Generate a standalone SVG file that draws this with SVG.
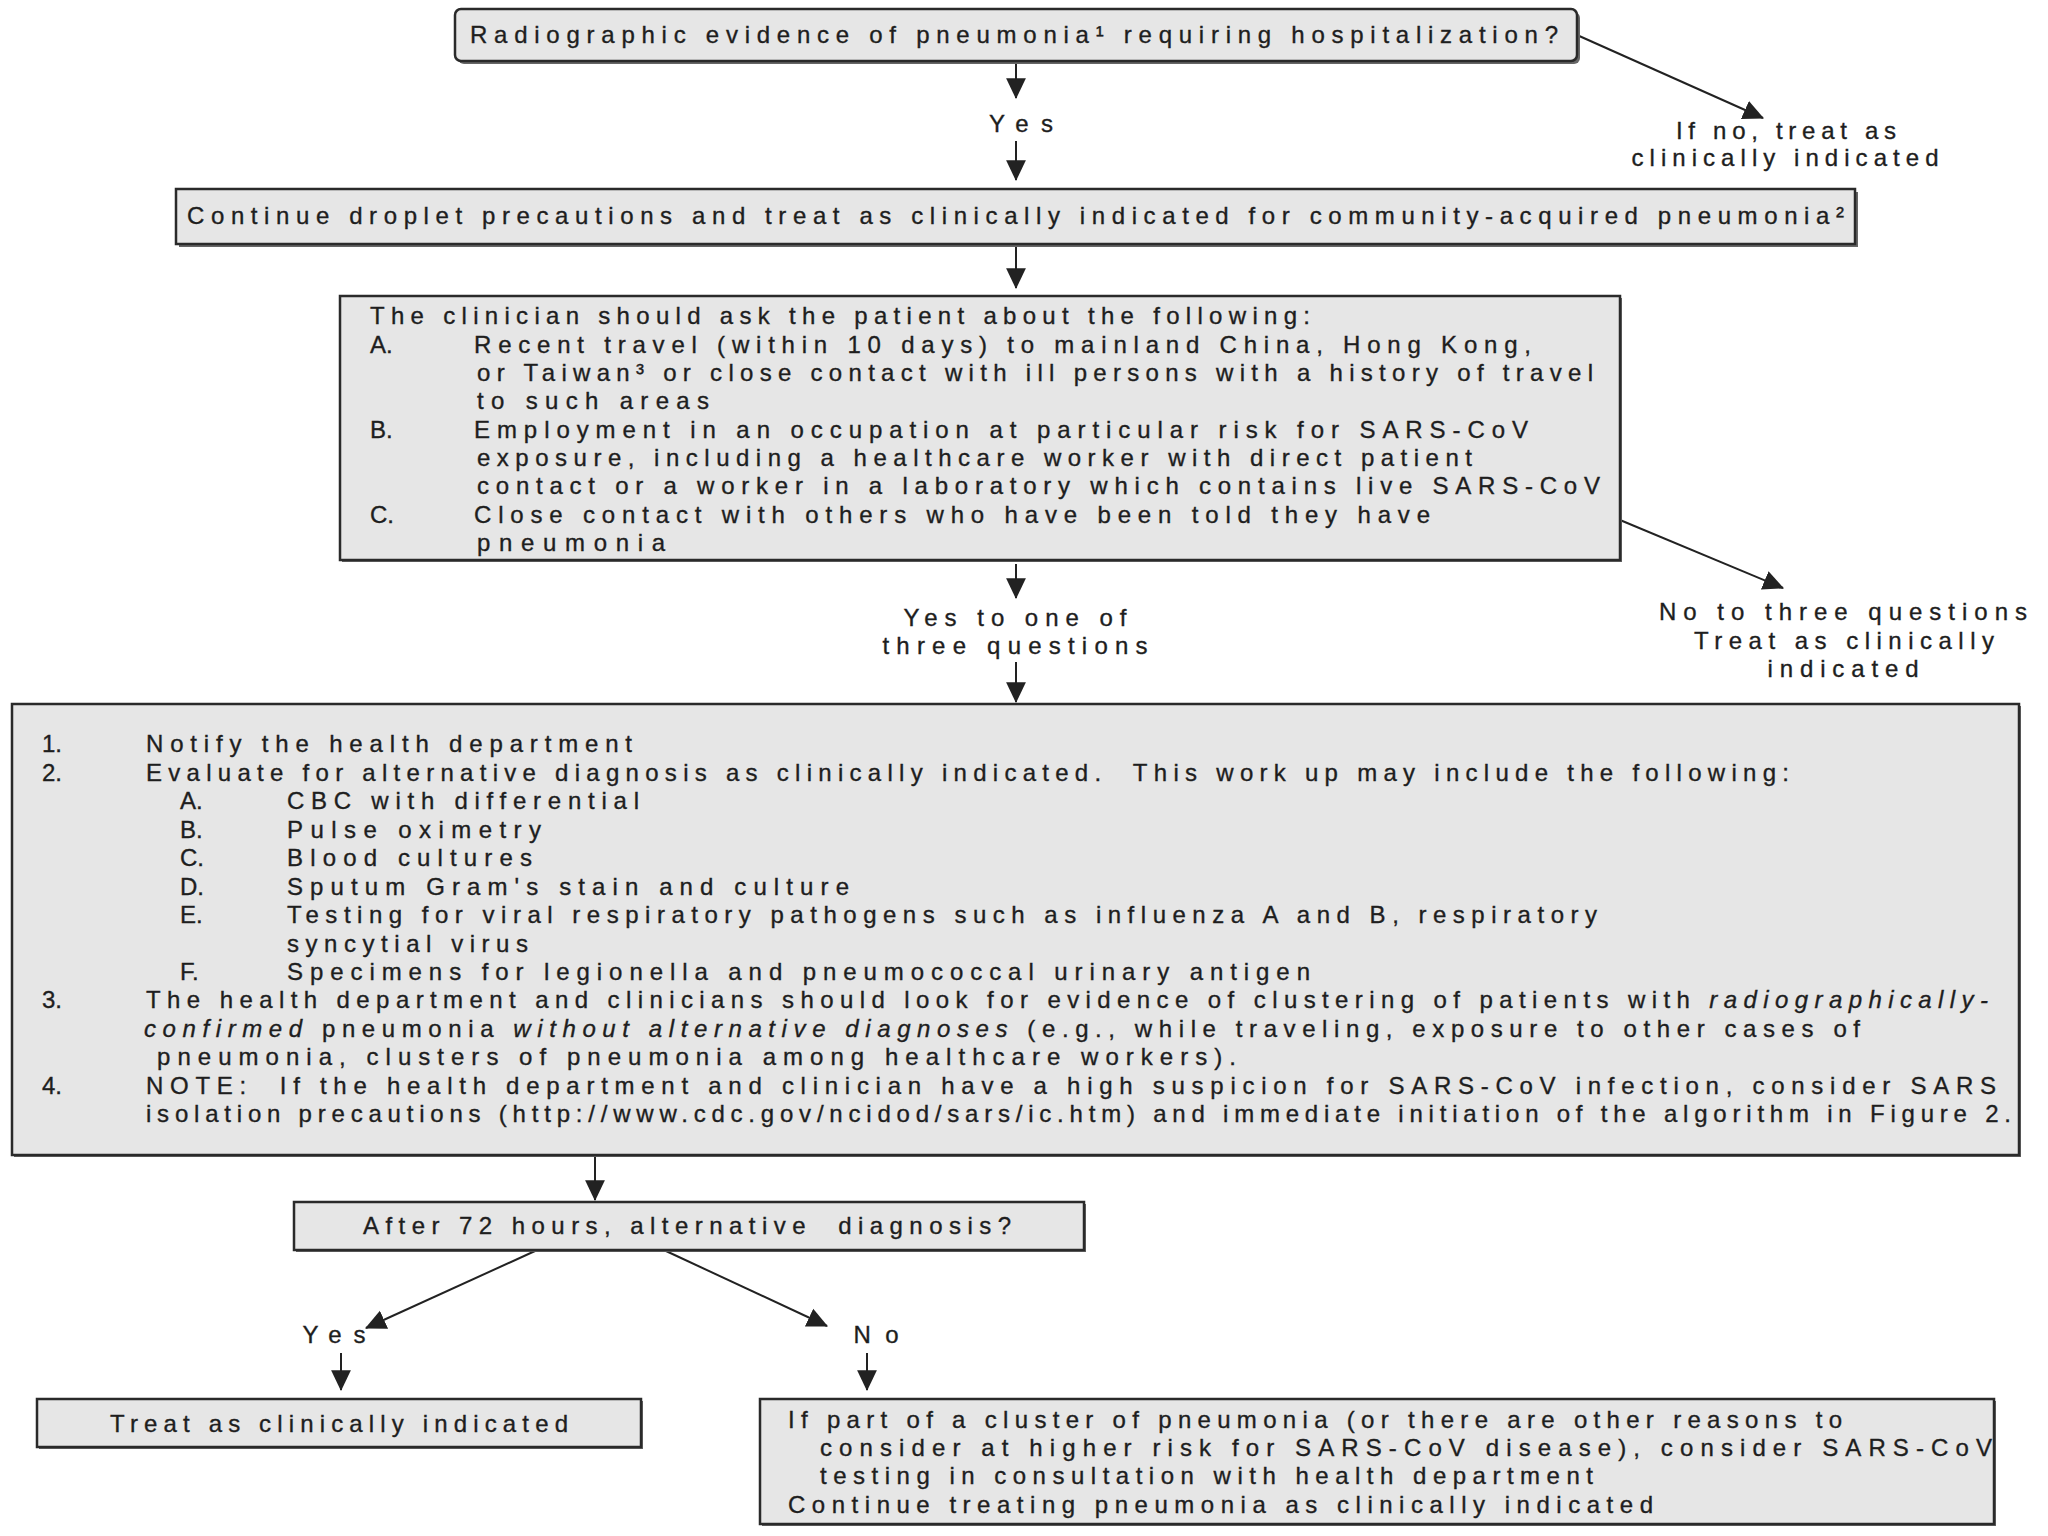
<svg xmlns="http://www.w3.org/2000/svg" width="2048" height="1536" viewBox="0 0 2048 1536">
<defs>
<marker id="ah" markerUnits="userSpaceOnUse" markerWidth="22" markerHeight="22" viewBox="0 0 20 20" refX="18" refY="10" orient="auto">
<path d="M0,1 L19,10 L0,19 Z" fill="#222"/>
</marker>
</defs>
<style>
.box{fill:#e6e6e6;stroke:#2a2a2a;stroke-width:2.5}
.sh{fill:#666}
.t{font-family:"Liberation Sans",Arial,sans-serif;font-size:24px;fill:#1e1e1e;stroke:#1e1e1e;stroke-width:0.35}
.c{text-anchor:middle}
.i{font-style:italic}
.ln{stroke:#222;stroke-width:2;fill:none;marker-end:url(#ah)}
</style>
<rect width="2048" height="1536" fill="#fff"/>

<g id="connectors">
<line class="ln" x1="1016" y1="61" x2="1016" y2="98"/>
<line class="ln" x1="1016" y1="141" x2="1016" y2="180"/>
<line class="ln" x1="1577" y1="35" x2="1763" y2="118"/>
<line class="ln" x1="1016" y1="244" x2="1016" y2="288"/>
<line class="ln" x1="1620" y1="520" x2="1783" y2="588"/>
<line class="ln" x1="1016" y1="564" x2="1016" y2="598"/>
<line class="ln" x1="1016" y1="662" x2="1016" y2="702"/>
<line class="ln" x1="595" y1="1155" x2="595" y2="1200"/>
<line class="ln" x1="535" y1="1251" x2="366" y2="1328"/>
<line class="ln" x1="666" y1="1251" x2="827" y2="1326"/>
<line class="ln" x1="341" y1="1353" x2="341" y2="1390"/>
<line class="ln" x1="867" y1="1353" x2="867" y2="1390"/>
</g>

<g id="labels">
<text class="t c" x="1021" y="132" textLength="64" lengthAdjust="spacing">Yes</text>
<text class="t c" x="1786" y="139" textLength="220" lengthAdjust="spacing">If no, treat as</text>
<text class="t c" x="1785" y="166" textLength="307" lengthAdjust="spacing">clinically indicated</text>
<text class="t c" x="1843" y="620" textLength="368" lengthAdjust="spacing">No to three questions</text>
<text class="t c" x="1844" y="649" textLength="300" lengthAdjust="spacing">Treat as clinically</text>
<text class="t c" x="1843" y="677" textLength="151" lengthAdjust="spacing">indicated</text>
<text class="t c" x="1015" y="626" textLength="223" lengthAdjust="spacing">Yes to one of</text>
<text class="t c" x="1015" y="654" textLength="265" lengthAdjust="spacing">three questions</text>
<text class="t c" x="334" y="1343" textLength="63" lengthAdjust="spacing">Yes</text>
<text class="t c" x="876" y="1343" textLength="45" lengthAdjust="spacing">No</text>
</g>

<g id="n1">
<rect class="sh" x="458" y="12" width="1122" height="52" rx="6"/>
<rect class="box" x="455" y="9" width="1122" height="52" rx="6"/>
<text class="t" x="470" y="43" textLength="1088" lengthAdjust="spacing">Radiographic evidence of pneumonia¹ requiring hospitalization?</text>
</g>

<g id="n2">
<rect class="sh" x="179" y="192" width="1679" height="55"/>
<rect class="box" x="176" y="189" width="1679" height="55"/>
<text class="t" x="187" y="224" textLength="1657" lengthAdjust="spacing">Continue droplet precautions and treat as clinically indicated for community-acquired pneumonia²</text>
</g>

<g id="n3">
<rect class="sh" x="342" y="298" width="1280" height="264"/>
<rect class="box" x="340" y="296" width="1280" height="264"/>
<text class="t" x="370" y="324" textLength="940" lengthAdjust="spacing">The clinician should ask the patient about the following:</text>
<text class="t" x="370" y="353">A.</text>
<text class="t" x="474" y="353" textLength="1057" lengthAdjust="spacing">Recent travel (within 10 days) to mainland China, Hong Kong,</text>
<text class="t" x="477" y="381" textLength="1116" lengthAdjust="spacing">or Taiwan³ or close contact with ill persons with a history of travel</text>
<text class="t" x="477" y="409" textLength="232" lengthAdjust="spacing">to such areas</text>
<text class="t" x="370" y="438">B.</text>
<text class="t" x="474" y="438" textLength="1054" lengthAdjust="spacing">Employment in an occupation at particular risk for SARS-CoV</text>
<text class="t" x="477" y="466" textLength="995" lengthAdjust="spacing">exposure, including a healthcare worker with direct patient</text>
<text class="t" x="477" y="494" textLength="1123" lengthAdjust="spacing">contact or a worker in a laboratory which contains live SARS-CoV</text>
<text class="t" x="370" y="523">C.</text>
<text class="t" x="474" y="523" textLength="956" lengthAdjust="spacing">Close contact with others who have been told they have</text>
<text class="t" x="477" y="551" textLength="188" lengthAdjust="spacing">pneumonia</text>
</g>

<g id="n4">
<rect class="sh" x="14" y="706" width="2007" height="451"/>
<rect class="box" x="12" y="704" width="2007" height="451"/>
<text class="t" x="42" y="752">1.</text>
<text class="t" x="146" y="752" textLength="486" lengthAdjust="spacing">Notify the health department</text>
<text class="t" x="42" y="781">2.</text>
<text class="t" x="146" y="781" textLength="1643" lengthAdjust="spacing" xml:space="preserve">Evaluate for alternative diagnosis as clinically indicated.  This work up may include the following:</text>
<text class="t" x="180" y="809">A.</text>
<text class="t" x="287" y="809" textLength="352" lengthAdjust="spacing">CBC with differential</text>
<text class="t" x="180" y="838">B.</text>
<text class="t" x="287" y="838" textLength="254" lengthAdjust="spacing">Pulse oximetry</text>
<text class="t" x="180" y="866">C.</text>
<text class="t" x="287" y="866" textLength="245" lengthAdjust="spacing">Blood cultures</text>
<text class="t" x="180" y="895">D.</text>
<text class="t" x="287" y="895" textLength="562" lengthAdjust="spacing">Sputum Gram's stain and culture</text>
<text class="t" x="180" y="923">E.</text>
<text class="t" x="287" y="923" textLength="1310" lengthAdjust="spacing">Testing for viral respiratory pathogens such as influenza A and B, respiratory</text>
<text class="t" x="287" y="952" textLength="241" lengthAdjust="spacing">syncytial virus</text>
<text class="t" x="180" y="980">F.</text>
<text class="t" x="287" y="980" textLength="1023" lengthAdjust="spacing">Specimens for legionella and pneumococcal urinary antigen</text>
<text class="t" x="42" y="1008">3.</text>
<text class="t" x="146" y="1008" textLength="1842" lengthAdjust="spacing">The health department and clinicians should look for evidence of clustering of patients with <tspan class="i">radiographically-</tspan></text>
<text class="t" x="144" y="1037" textLength="1716" lengthAdjust="spacing"><tspan class="i">confirmed</tspan> pneumonia <tspan class="i">without alternative diagnoses</tspan> (e.g., while traveling, exposure to other cases of</text>
<text class="t" x="157" y="1065" textLength="1079" lengthAdjust="spacing">pneumonia, clusters of pneumonia among healthcare workers).</text>
<text class="t" x="42" y="1094">4.</text>
<text class="t" x="146" y="1094" textLength="1850" lengthAdjust="spacing" xml:space="preserve">NOTE:  If the health department and clinician have a high suspicion for SARS-CoV infection, consider SARS</text>
<text class="t" x="146" y="1122" textLength="1865" lengthAdjust="spacing">isolation precautions (http://www.cdc.gov/ncidod/sars/ic.htm) and immediate initiation of the algorithm in Figure 2.</text>
</g>

<g id="n5">
<rect class="sh" x="296" y="1204" width="790" height="48"/>
<rect class="box" x="294" y="1202" width="790" height="48"/>
<text class="t" x="363" y="1234" textLength="648" lengthAdjust="spacing" xml:space="preserve">After 72 hours, alternative  diagnosis?</text>
</g>

<g id="n6">
<rect class="sh" x="39" y="1401" width="604" height="48"/>
<rect class="box" x="37" y="1399" width="604" height="48"/>
<text class="t" x="110" y="1432" textLength="458" lengthAdjust="spacing">Treat as clinically indicated</text>
</g>

<g id="n7">
<rect class="sh" x="762" y="1401" width="1234" height="125"/>
<rect class="box" x="760" y="1399" width="1234" height="125"/>
<text class="t" x="788" y="1428" textLength="1054" lengthAdjust="spacing">If part of a cluster of pneumonia (or there are other reasons to</text>
<text class="t" x="820" y="1456" textLength="1172" lengthAdjust="spacing">consider at higher risk for SARS-CoV disease), consider SARS-CoV</text>
<text class="t" x="820" y="1484" textLength="773" lengthAdjust="spacing">testing in consultation with health department</text>
<text class="t" x="788" y="1513" textLength="865" lengthAdjust="spacing">Continue treating pneumonia as clinically indicated</text>
</g>
</svg>
